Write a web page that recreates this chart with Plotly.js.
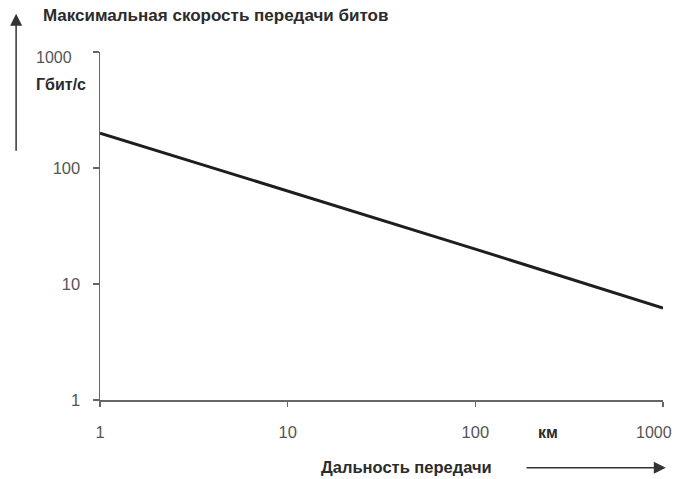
<!DOCTYPE html>
<html>
<head>
<meta charset="utf-8">
<script src="https://cdn.plot.ly/plotly-3.0.1.min.js"></script>
<style>
  html, body { margin: 0; padding: 0; background: #fff; }
  #chart { width: 676px; height: 479px; }
</style>
</head>
<body>
<div id="chart"></div>
<script>
// Distance (km) and maximum bit rate (Gbit/s), log-log
const distanceKm = [1, 10, 100, 1000];
const bitRateGbps = [200, 63, 20, 6.2];

// the last x label sits at the very edge, so it is drawn separately
const xTickVals = [1, 10, 100, 1000];
const xTickText = ['1', '10', '100', ''];
const yTickVals = [1, 10, 100, 1000];
const yTickText = ['1', '10', '100', ''];

const NARROW = '"Liberation Sans Narrow", "Arial Narrow", "Liberation Sans", Arial, sans-serif';
const BOLD_COLOR = '#2b2b2b';
const TICK_COLOR = '#555';

const trace = {
  x: distanceKm,
  y: bitRateGbps,
  type: 'scatter',
  mode: 'lines',
  line: { color: '#1e1e1e', width: 3 },
  hoverinfo: 'skip'
};

const layout = {
  width: 676,
  height: 479,
  margin: { l: 100, r: 13, t: 52, b: 79, pad: 0 },
  paper_bgcolor: '#fff',
  plot_bgcolor: '#fff',
  showlegend: false,
  xaxis: {
    type: 'log',
    range: [0, 3],
    tickvals: xTickVals,
    ticktext: xTickText,
    ticks: 'outside',
    ticklen: 5,
    tickwidth: 1.5,
    tickcolor: '#666',
    ticklabelstandoff: 12,
    showline: true,
    linecolor: '#666',
    linewidth: 1.5,
    showgrid: false,
    zeroline: false,
    tickfont: { family: NARROW, size: 16.5, color: TICK_COLOR },
    fixedrange: true
  },
  yaxis: {
    type: 'log',
    range: [0, 3],
    tickvals: yTickVals,
    ticktext: yTickText,
    ticks: 'outside',
    ticklen: 6,
    tickwidth: 1.5,
    tickcolor: '#666',
    ticklabelstandoff: 9,
    showline: true,
    linecolor: '#666',
    linewidth: 1.5,
    showgrid: false,
    zeroline: false,
    tickfont: { family: NARROW, size: 16.5, color: TICK_COLOR },
    fixedrange: true
  },
  annotations: [
    {
      text: 'Максимальная скорость передачи битов',
      xref: 'paper', yref: 'paper',
      x: -0.104, y: 1.105, xanchor: 'left', yanchor: 'middle',
      showarrow: false,
      font: { family: NARROW, size: 17, color: BOLD_COLOR, weight: 'bold' }
    },
    {
      text: '1000',
      xref: 'paper', yref: 'paper',
      x: -0.118, y: 0.983, xanchor: 'left', yanchor: 'middle',
      showarrow: false,
      font: { family: NARROW, size: 16, color: TICK_COLOR }
    },
    {
      text: '1000',
      xref: 'paper', yref: 'paper',
      x: 1.02, y: -0.092, xanchor: 'right', yanchor: 'middle',
      showarrow: false,
      font: { family: NARROW, size: 16, color: TICK_COLOR }
    },
    {
      text: 'Гбит/с',
      xref: 'paper', yref: 'paper',
      x: -0.118, y: 0.908, xanchor: 'left', yanchor: 'middle',
      showarrow: false,
      font: { family: NARROW, size: 16, color: BOLD_COLOR, weight: 'bold' }
    },
    {
      text: 'км',
      xref: 'paper', yref: 'paper',
      x: 0.795, y: -0.092, xanchor: 'center', yanchor: 'middle',
      showarrow: false,
      font: { family: NARROW, size: 16, color: BOLD_COLOR, weight: 'bold' }
    },
    {
      text: 'Дальность передачи',
      xref: 'paper', yref: 'paper',
      x: 0.389, y: -0.193, xanchor: 'left', yanchor: 'middle',
      showarrow: false,
      font: { family: NARROW, size: 16.5, color: BOLD_COLOR, weight: 'bold' }
    },
    // vertical arrow beside the y axis
    {
      xref: 'paper', yref: 'paper',
      x: -0.149, y: 1.11, ax: -0.149, ay: 0.712,
      axref: 'paper', ayref: 'paper',
      text: '', showarrow: true,
      arrowhead: 2, arrowsize: 1.6, arrowwidth: 1.5, arrowcolor: '#333'
    },
    // horizontal arrow under the x axis
    {
      xref: 'paper', yref: 'paper',
      x: 1.005, y: -0.195, ax: 0.755, ay: -0.195,
      axref: 'paper', ayref: 'paper',
      text: '', showarrow: true,
      arrowhead: 2, arrowsize: 1.6, arrowwidth: 1.5, arrowcolor: '#333'
    }
  ]
};

Plotly.newPlot('chart', [trace], layout, { displayModeBar: false, staticPlot: true });
</script>
</body>
</html>
